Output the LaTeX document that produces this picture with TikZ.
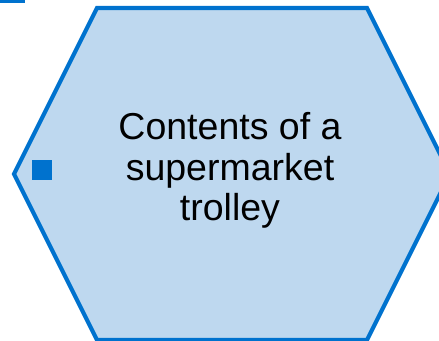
\documentclass[tikz,border=0pt]{standalone}
\usepackage{fontspec}
\setmainfont{Liberation Sans}
\usetikzlibrary{positioning}
\definecolor{hexblue}{RGB}{0,114,206}
\definecolor{hexfill}{RGB}{190,216,239}

\begin{document}
\begin{tikzpicture}
 [x=1pt,y=1pt,
 hexa/.style={
  draw=hexblue,
  line width=4.2pt, % border
  fill=hexfill,
  line join=miter},
 marker/.style={
  rectangle,
  fill=hexblue,
  minimum size=20pt,
  inner sep=0pt},
 heading/.style={
  font=\fontsize{37.5}{40.5}\selectfont,
  align=center,
  inner sep=0pt}]
\useasboundingbox (0,0) rectangle (439,340);
\clip (0,0) rectangle (439,340);
\coordinate (tl) at (97,332);
\coordinate (tr) at (367,332);
\coordinate (r) at (450,166);
\coordinate (br) at (367,0);
\coordinate (bl) at (97,0);
\coordinate (l) at (14,166);
\path[hexa] (tl) -- (tr) -- (r) -- (br) -- (bl) -- (l) -- cycle;
\node (contents) [heading] at (230,169.3) {Contents of a\\supermarket\\trolley};
\node (handle) [marker] at (41.5,170) {};
\node (corner) [marker,minimum width=25pt] at (12.5,347) {};
\end{tikzpicture}
\end{document}
